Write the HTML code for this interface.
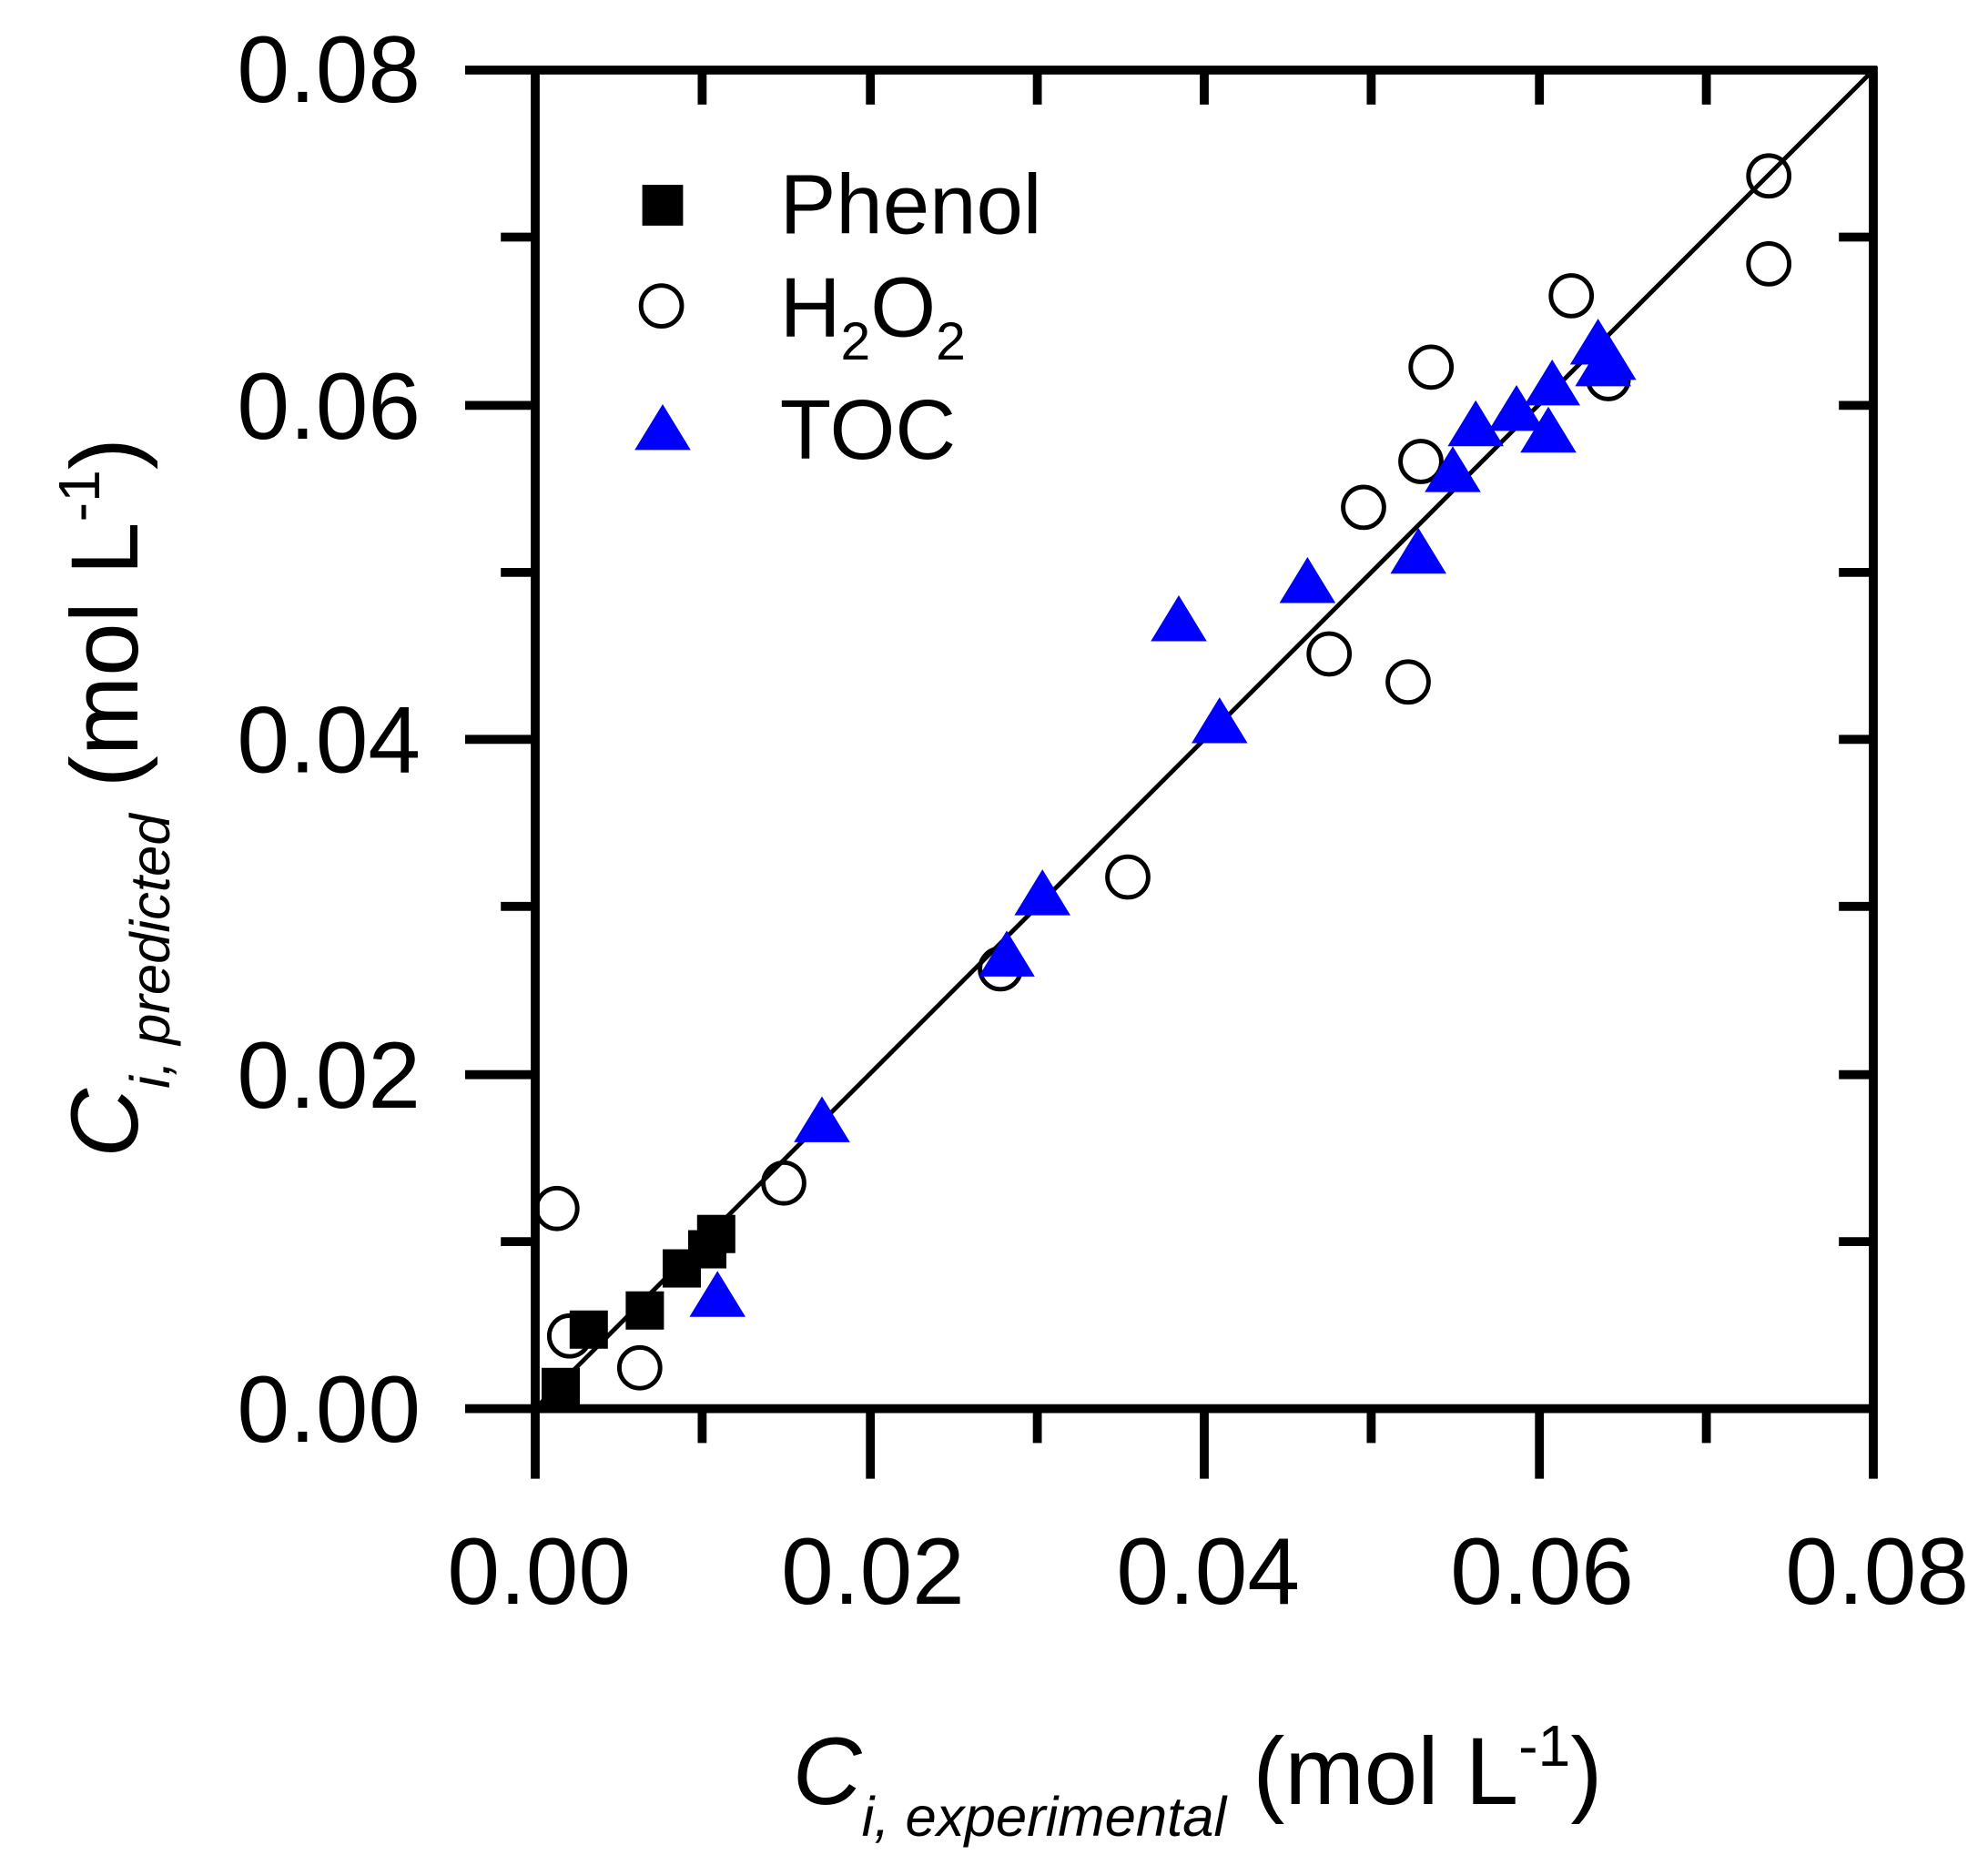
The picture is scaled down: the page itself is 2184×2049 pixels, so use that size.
<!DOCTYPE html>
<html><head><style>
html,body{margin:0;padding:0;background:#fff;}
svg{display:block;}
text{font-family:"Liberation Sans",Arial,sans-serif;fill:#000;}
</style></head><body>
<svg width="2184" height="2049" viewBox="0 0 1560 1463" preserveAspectRatio="none" xmlns="http://www.w3.org/2000/svg">
<rect width="1560" height="1463" fill="#fff"/>
<g stroke="#000" stroke-width="7" fill="none">
<line x1="365" y1="55" x2="1473" y2="55"/>
<line x1="365" y1="1105" x2="1473" y2="1105"/>
<line x1="420" y1="52" x2="420" y2="1160"/>
<line x1="1470" y1="52" x2="1470" y2="1160"/>
<line x1="393" y1="186" x2="420" y2="186"/><line x1="365" y1="318" x2="420" y2="318"/>
<line x1="393" y1="449" x2="420" y2="449"/><line x1="365" y1="580" x2="420" y2="580"/>
<line x1="393" y1="711" x2="420" y2="711"/><line x1="365" y1="843" x2="420" y2="843"/>
<line x1="393" y1="974" x2="420" y2="974"/>
<line x1="1443" y1="186" x2="1470" y2="186"/><line x1="1443" y1="318" x2="1470" y2="318"/>
<line x1="1443" y1="449" x2="1470" y2="449"/><line x1="1443" y1="580" x2="1470" y2="580"/>
<line x1="1443" y1="711" x2="1470" y2="711"/><line x1="1443" y1="843" x2="1470" y2="843"/>
<line x1="1443" y1="974" x2="1470" y2="974"/>
<line x1="551" y1="55" x2="551" y2="82"/><line x1="683" y1="55" x2="683" y2="82"/>
<line x1="814" y1="55" x2="814" y2="82"/><line x1="945" y1="55" x2="945" y2="82"/>
<line x1="1076" y1="55" x2="1076" y2="82"/><line x1="1208" y1="55" x2="1208" y2="82"/>
<line x1="1339" y1="55" x2="1339" y2="82"/>
<line x1="551" y1="1105" x2="551" y2="1132"/><line x1="683" y1="1105" x2="683" y2="1160"/>
<line x1="814" y1="1105" x2="814" y2="1132"/><line x1="945" y1="1105" x2="945" y2="1160"/>
<line x1="1076" y1="1105" x2="1076" y2="1132"/><line x1="1208" y1="1105" x2="1208" y2="1160"/>
<line x1="1339" y1="1105" x2="1339" y2="1132"/>
</g>
<line x1="420" y1="1105" x2="1470" y2="55" stroke="#000" stroke-width="3.5"/>
<g font-size="74" text-anchor="end">
<text x="330" y="80">0.08</text><text x="330" y="344">0.06</text>
<text x="330" y="606">0.04</text><text x="330" y="869">0.02</text>
<text x="330" y="1131">0.00</text>
</g>
<g font-size="74" text-anchor="middle">
<text x="423" y="1258">0.00</text><text x="685" y="1258">0.02</text>
<text x="948" y="1258">0.04</text><text x="1210" y="1258">0.06</text>
<text x="1473" y="1258">0.08</text>
</g>
<g fill="none" stroke="#000" stroke-width="3.5">
<circle cx="437" cy="948" r="16"/><circle cx="447" cy="1048" r="16"/><circle cx="502" cy="1073" r="16"/>
<circle cx="615" cy="928" r="16"/><circle cx="785" cy="760" r="16"/><circle cx="885" cy="688" r="16"/>
<circle cx="1043" cy="513" r="16"/><circle cx="1070" cy="398" r="16"/><circle cx="1105" cy="535" r="16"/>
<circle cx="1115" cy="362" r="16"/><circle cx="1123" cy="288" r="16"/><circle cx="1233" cy="232" r="16"/>
<circle cx="1262" cy="297" r="16"/><circle cx="1388" cy="138" r="16"/><circle cx="1388" cy="207" r="16"/>
<circle cx="519" cy="240" r="16"/>
</g>
<g fill="#000">
<rect x="425" y="1073" width="30" height="30"/><rect x="447" y="1028" width="30" height="30"/>
<rect x="491" y="1013" width="30" height="30"/><rect x="520" y="980" width="30" height="30"/>
<rect x="540" y="965" width="30" height="30"/><rect x="547" y="953" width="30" height="30"/>
<rect x="504" y="145" width="32" height="32"/>
</g>
<g fill="#0000ff">
<path d="M563,997 l22,36 h-44z"/><path d="M645,860 l22,36 h-44z"/><path d="M818,682 l22,36 h-44z"/>
<path d="M790,730 l22,36 h-44z"/><path d="M925,467 l22,36 h-44z"/><path d="M957,547 l22,36 h-44z"/>
<path d="M1026,437 l22,36 h-44z"/><path d="M1113,414 l22,36 h-44z"/><path d="M1140,350 l22,36 h-44z"/>
<path d="M1158,314 l22,36 h-44z"/><path d="M1190,302 l22,36 h-44z"/><path d="M1215,319 l22,36 h-44z"/>
<path d="M1218,282 l22,36 h-44z"/><path d="M1254,250 l22,36 h-44z"/><path d="M1258,267 l22,36 h-44z"/>
<path d="M1262,262 l22,36 h-44z"/>
<path d="M520,317 l22,36 h-44z"/>
</g>
<g font-size="66">
<text x="612" y="183">Phenol</text>
<text x="612" y="264">H<tspan font-size="42" dy="18">2</tspan><tspan dy="-18">O</tspan><tspan font-size="42" dy="18">2</tspan></text>
<text x="612" y="360">TOC</text>
</g>
<text x="622" y="1415" font-size="75"><tspan font-style="italic">C</tspan><tspan font-style="italic" font-size="44" dy="25">i, experimental</tspan><tspan dy="-25"> (mol L</tspan><tspan font-size="46" dy="-30">-1</tspan><tspan dy="30">)</tspan></text>
<text transform="translate(108,908) rotate(-90)" font-size="75"><tspan font-style="italic">C</tspan><tspan font-style="italic" font-size="44" dy="25">i, predicted</tspan><tspan dy="-25"> (mol L</tspan><tspan font-size="46" dy="-30">-1</tspan><tspan dy="30">)</tspan></text>
</svg>
</body></html>
